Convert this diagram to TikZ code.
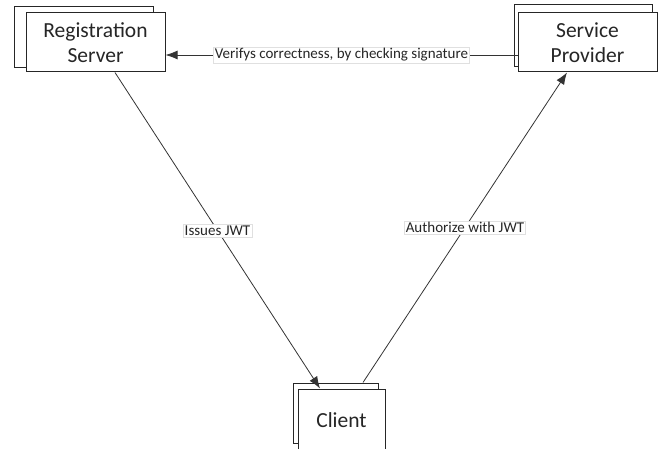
\documentclass[tikz,border=0pt]{standalone}
\usepackage{fontspec}
\setmainfont{Carlito}
\usetikzlibrary{arrows.meta,calc}
\begin{document}
\begin{tikzpicture}[x=1pt,y=-1pt,
  boxfront/.style={draw=black!85,line width=1pt,fill=white,minimum width=139pt,minimum height=59pt,inner sep=0pt,align=center,font=\fontsize{21.5}{25}\selectfont,text=black!85},
  boxback/.style={draw=black!85,line width=1pt,fill=white,inner sep=0pt},
  conn/.style={draw=black!80,line width=0.8pt},
  tip/.style={-{Latex[length=12pt,width=9pt]}},
  lbl/.style={fill=white,draw=black!12,line width=0.4pt,inner sep=1.5pt,font=\fontsize{15}{17}\selectfont,text=black!85}]
\useasboundingbox (0,0) rectangle (659,449);
% Registration Server
\node[boxback,minimum width=139pt,minimum height=61pt] (rsb) at (83.5,37) {};
\node[boxfront] (rs) at (95.5,42.5) {Registration\\Server};
% Service Provider
\node[boxback,minimum width=138pt,minimum height=62pt] (spb) at (583,36) {};
\node[boxfront] (sp) at (587.5,42.5) {Service\\Provider};
% Client
\node[boxback,minimum width=85pt,minimum height=60pt] (clb) at (335.5,413) {};
\node[boxfront,minimum width=87pt,minimum height=62pt] (cl) at (341.5,420) {Client};
% connectors
\draw[conn,tip] ([yshift=-12.5pt]sp.west) -- node[lbl,pos=0.5]{Verifys correctness, by checking signature} ([yshift=-12.5pt]rs.east);
\draw[conn,tip] ([xshift=19.5pt]rs.south) -- node[lbl,pos=0.5]{Issues JWT} ([xshift=-21.5pt]cl.north);
\draw[conn,tip] ([xshift=27.5pt]clb.north) -- node[lbl,pos=0.5]{Authorize with JWT} ([xshift=-20.5pt]sp.south);
\end{tikzpicture}
\end{document}
